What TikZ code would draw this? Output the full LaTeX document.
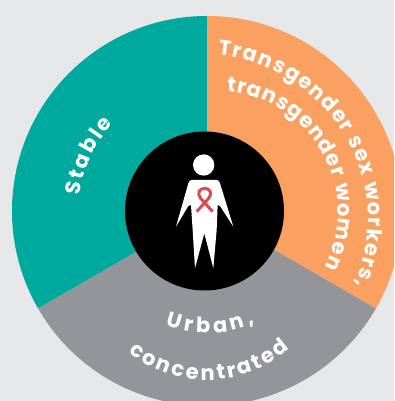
\documentclass[tikz,border=0pt]{standalone}
\usepackage{fontspec}
\setmainfont{Poppins}
\usetikzlibrary{decorations.text}
\definecolor{bgc}{HTML}{E6E7E9}
\definecolor{tealc}{HTML}{00A99D}
\definecolor{orangec}{HTML}{FAA060}
\definecolor{greyc}{HTML}{939598}
\definecolor{redc}{HTML}{DC4A50}
\newcommand{\labelfont}{\fontsize{21pt}{22pt}\selectfont\bfseries\color{white}}
\newcommand{\arctext}[6]{% cx cy r start end text
  \path[decorate,decoration={text along path,text align={fit to path},
    text={|\labelfont|#6}}]
    ({#1+#3*cos(#4)},{#2+#3*sin(#4)}) arc[start angle=#4,end angle=#5,radius=#3];
}
\begin{document}
\begin{tikzpicture}[x=1pt,y=1pt]
\useasboundingbox (0,0) rectangle (394,401);
\clip (0,0) rectangle (394,401);
\fill[bgc] (0,0) rectangle (394,401);
\coordinate (c) at (207,190);
\fill[tealc] (c) -- ++(90:195) arc[start angle=90,end angle=210,radius=195] -- cycle;
\fill[orangec] (c) -- ++(90:195) arc[start angle=90,end angle=-30,radius=195] -- cycle;
\fill[greyc] (c) -- ++(210:195) arc[start angle=210,end angle=330,radius=195] -- cycle;
\fill[black] (204.5,190) circle[radius=79.5];
\arctext{207}{190}{128}{173}{137}{Stable}
\arctext{202}{181}{166}{84.5}{-23}{Transgender sex workers,}
\arctext{217}{189}{121}{85.5}{-27}{transgender women}
\arctext{207}{190}{122}{-110}{-67}{Urban,}
\arctext{207}{146}{125}{-129}{-48.5}{concentrated}
\begin{scope}[shift={(120,271)},x=0.3333pt,y=-0.3333pt]
\fill[white] (251,105) circle[radius=32];
\fill[white] (215,150) -- (290,150) .. controls (296,150) and (298,154) .. (300,160) -- (340,290) -- (300,228)
  -- (293,225) -- (290,300) -- (280,415) -- (253,310) -- (225,415) -- (218,300) -- (213,225) -- (205,228)
  -- (168,290) -- (205,160) .. controls (207,154) and (210,150) .. (215,150) -- cycle;
\draw[redc,line width=3pt] (230,245) -- (266,205) .. controls (278,190) and (270,175) .. (254,175)
  .. controls (238,175) and (230,190) .. (242,205) -- (278,245);
\end{scope}
\end{tikzpicture}
\end{document}
